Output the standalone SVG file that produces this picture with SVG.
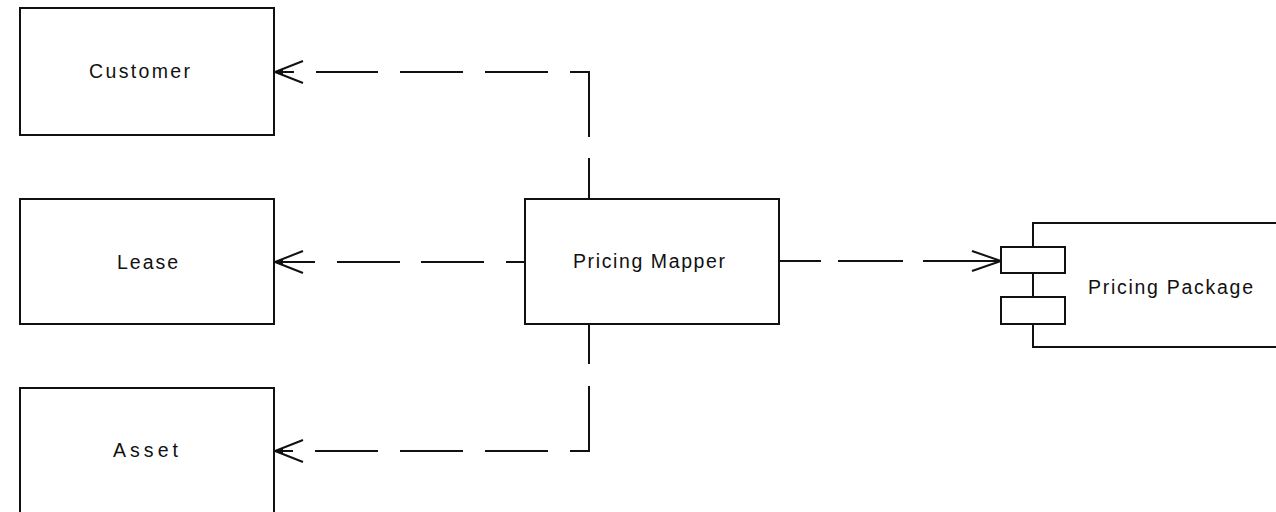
<svg xmlns="http://www.w3.org/2000/svg" width="1276" height="512" viewBox="0 0 1276 512">
  <style>
    .box { fill: #fff; stroke: #111; stroke-width: 2; }
    .lbl { font-family: "Liberation Sans", Arial, sans-serif; font-size: 19.5px; fill: #111; }
    .dep { fill: none; stroke: #111; stroke-width: 2; }
  </style>
  <defs>
    <!-- open arrowhead with a small filled point, used at the start of a dependency -->
    <marker id="headBlob" markerUnits="userSpaceOnUse" viewBox="-32 -15 34 30" markerWidth="34" markerHeight="30" refX="0" refY="0" orient="auto-start-reverse" overflow="visible">
      <path d="M-28,-11 L0,0 L-28,11" fill="none" stroke="#111" stroke-width="2"/>
      <polygon points="0,0 -8,-3.5 -8,3.5" fill="#111"/>
    </marker>
    <!-- plain open arrowhead -->
    <marker id="headOpen" markerUnits="userSpaceOnUse" viewBox="-32 -15 34 30" markerWidth="34" markerHeight="30" refX="0" refY="0" orient="auto" overflow="visible">
      <path d="M-29,-10 L0,0 L-29,10" fill="none" stroke="#111" stroke-width="2"/>
    </marker>
  </defs>

  <rect width="1276" height="512" fill="#fff"/>

  <g id="connectors">
    <!-- Pricing Mapper to Customer -->
    <path class="dep" d="M275,72 H589 V199" stroke-dasharray="19 22 62 22 63 22 63 22 84 21 41" marker-start="url(#headBlob)"/>
    <!-- Pricing Mapper to Lease -->
    <path class="dep" d="M275,262 H525" stroke-dasharray="40 22 63 21 63 22 19" marker-start="url(#headBlob)"/>
    <!-- Pricing Mapper to Asset -->
    <path class="dep" d="M275,451 H589 V324" stroke-dasharray="18 22 63 22 63 22 63 22 84 22 40" marker-start="url(#headBlob)"/>
    <!-- Pricing Mapper to Pricing Package -->
    <path class="dep" d="M779,261 H1001" stroke-dasharray="42 17 65 20 78" marker-end="url(#headOpen)"/>
  </g>

  <g id="customer">
    <rect class="box" x="20" y="8" width="254" height="127"/>
    <text class="lbl" x="89" y="78" textLength="101" lengthAdjust="spacing">Customer</text>
  </g>

  <g id="lease">
    <rect class="box" x="20" y="199" width="254" height="125"/>
    <text class="lbl" x="117" y="269" textLength="61" lengthAdjust="spacing">Lease</text>
  </g>

  <g id="asset">
    <rect class="box" x="20" y="388" width="254" height="126"/>
    <text class="lbl" x="113" y="457" textLength="65" lengthAdjust="spacing">Asset</text>
  </g>

  <g id="pricing-mapper">
    <rect class="box" x="525" y="199" width="254" height="125"/>
    <text class="lbl" x="573" y="268" textLength="152" lengthAdjust="spacing">Pricing Mapper</text>
  </g>

  <g id="pricing-package">
    <rect class="box" x="1033" y="223" width="260" height="124"/>
    <rect class="box" x="1001" y="247" width="64" height="26"/>
    <rect class="box" x="1001" y="297" width="64" height="27"/>
    <text class="lbl" x="1088" y="294" textLength="165" lengthAdjust="spacing">Pricing Package</text>
  </g>
</svg>
